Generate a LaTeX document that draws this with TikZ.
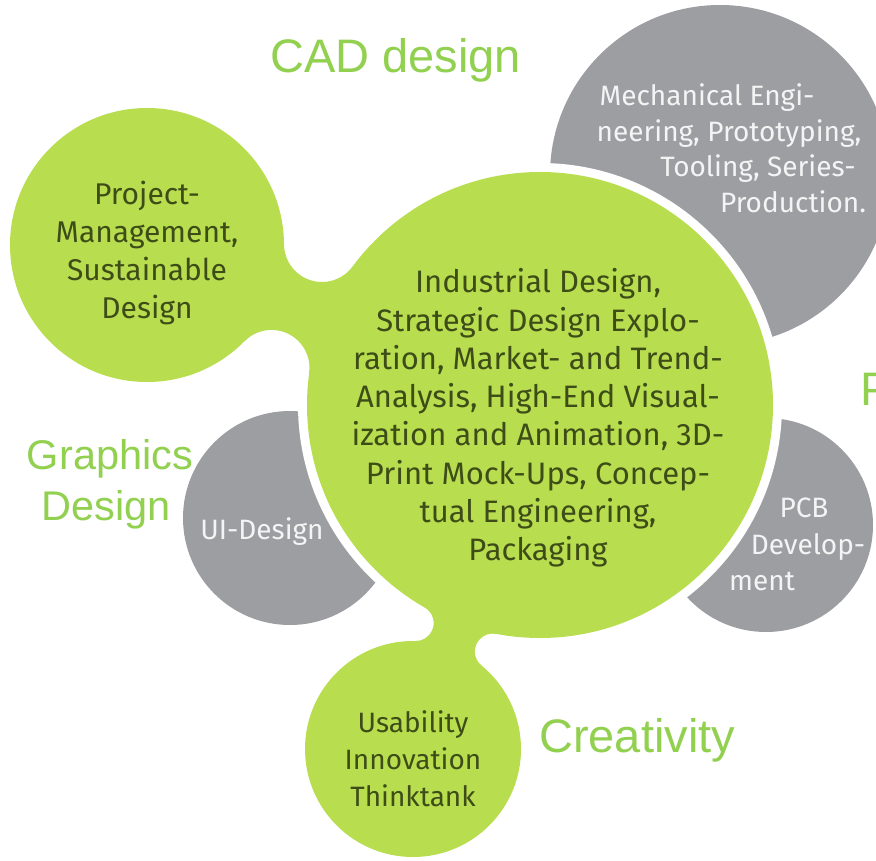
\documentclass[tikz,border=0pt]{standalone}
\usepackage{fontspec}
\setmainfont{Fira Sans}
\newfontfamily\lblfont{Liberation Sans}
\definecolor{lime}{HTML}{B8DE50}
\definecolor{bubgray}{HTML}{9D9EA2}
\definecolor{inktext}{HTML}{3E4D18}
\definecolor{labgreen}{HTML}{92D050}
\definecolor{paletext}{HTML}{F4F4F4}
% metaball bridge between two circles: c1x c1y r1 c2x c2y r2 rf
\newcommand\mbBridge[7]{%
 \pgfmathsetmacro\mbdx{(#4-#1)/100}%
 \pgfmathsetmacro\mbdy{(#5-#2)/100}%
 \pgfmathsetmacro\mbd{sqrt(\mbdx*\mbdx+\mbdy*\mbdy)}%
 \pgfmathsetmacro\mba{(#3+#7)/100}%
 \pgfmathsetmacro\mbb{(#6+#7)/100}%
 \pgfmathsetmacro\mbx{(\mba*\mba-\mbb*\mbb+\mbd*\mbd)/(2*\mbd)}%
 \pgfmathsetmacro\mbh{sqrt(\mba*\mba-\mbx*\mbx)}%
 \pgfmathsetmacro\mbux{\mbdx/\mbd}%
 \pgfmathsetmacro\mbuy{\mbdy/\mbd}%
 \pgfmathsetmacro\mbPax{#1+100*(\mbx*\mbux-\mbh*\mbuy)}%
 \pgfmathsetmacro\mbPay{#2+100*(\mbx*\mbuy+\mbh*\mbux)}%
 \pgfmathsetmacro\mbPbx{#1+100*(\mbx*\mbux+\mbh*\mbuy)}%
 \pgfmathsetmacro\mbPby{#2+100*(\mbx*\mbuy-\mbh*\mbux)}%
 \pgfmathsetmacro\mbAa{atan2(#2-\mbPay,#1-\mbPax)}%
 \pgfmathsetmacro\mbAb{atan2(#5-\mbPay,#4-\mbPax)}%
 \pgfmathsetmacro\mbBa{atan2(#2-\mbPby,#1-\mbPbx)}%
 \pgfmathsetmacro\mbBb{atan2(#5-\mbPby,#4-\mbPbx)}%
 \pgfmathsetmacro\mbDA{mod(\mbAb-\mbAa+540,360)-180}%
 \pgfmathsetmacro\mbDB{mod(\mbBa-\mbBb+540,360)-180}%
 \fill[lime] (#1,#2) -- ([shift={(\mbAa:#7)}]\mbPax,\mbPay)
   arc[start angle=\mbAa, delta angle=\mbDA, radius=#7]
   -- (#4,#5) -- ([shift={(\mbBb:#7)}]\mbPbx,\mbPby)
   arc[start angle=\mbBb, delta angle=\mbDB, radius=#7] -- cycle;%
}
\begin{document}
\begin{tikzpicture}[x=1pt,y=-1pt,
  blobtext/.style={text=inktext, align=center, inner sep=0pt},
  graytext/.style={text=paletext, inner sep=0pt, anchor=base, font=\fontsize{28}{36}\selectfont},
  lbl/.style={text=labgreen, inner sep=0pt, anchor=base}]
\useasboundingbox (0,0) rectangle (876,861);
\fill[white] (0,0) rectangle (876,861);
% grey bubbles (behind)
\fill[bubgray] (720,175) circle[radius=170];
\fill[bubgray] (290,518) circle[radius=107];
\fill[bubgray] (766,525) circle[radius=107];
% white gap around the central bubble
\fill[white] (540,405) circle[radius=242];
% green bubbles and their bridges
\mbBridge{147}{245}{137}{540}{405}{233}{38}
\mbBridge{413}{749}{108}{540}{405}{233}{18}
\fill[lime] (540,405) circle[radius=233];
\fill[lime] (147,245) circle[radius=137];
\fill[lime] (413,749) circle[radius=108];
% texts in green bubbles
\node[blobtext, font=\fontsize{31}{38.3}\selectfont] (core) at (538,418) {Industrial Design,\\Strategic Design Explo-\\ration, Market- and Trend-\\Analysis, High-End Visual-\\ization and Animation, 3D-\\Print Mock-Ups, Concep-\\tual Engineering,\\Packaging};
\node[blobtext, font=\fontsize{30}{38}\selectfont] (project) at (147,253) {Project-\\Management,\\Sustainable\\Design};
\node[blobtext, font=\fontsize{28}{37}\selectfont] (usability) at (413,759) {Usability\\Innovation\\Thinktank};
% texts in grey bubbles
\node[graytext] (ui) at (262,539) {UI-Design};
\node[graytext] (mech1) at (707,106) {Mechanical Engi-};
\node[graytext] (mech2) at (729,142) {neering, Prototyping,};
\node[graytext] (mech3) at (758,177) {Tooling, Series-};
\node[graytext] (mech4) at (793,213) {Production.};
\node[graytext] (pcb1) at (804,517) {PCB};
\node[graytext] (pcb2) at (808,554) {Develop-};
\node[graytext] (pcb3) at (762,590) {ment};
% outer labels
\node[lbl, anchor=base west, font=\lblfont\fontsize{47}{47}\selectfont] (cad) at (270,73) {CAD design};
\node[lbl, font=\lblfont\fontsize{41.5}{41.5}\selectfont] (graph1) at (110,469) {Graphics};
\node[lbl, font=\lblfont\fontsize{41.5}{41.5}\selectfont] (graph2) at (106,520) {Design};
\node[lbl, anchor=base west, font=\lblfont\fontsize{47}{47}\selectfont] (creat) at (539,752) {Creativity};
\node[lbl, anchor=base west, font=\lblfont\fontsize{47}{47}\selectfont] (pcut) at (860,405) {P};
\end{tikzpicture}
\end{document}
